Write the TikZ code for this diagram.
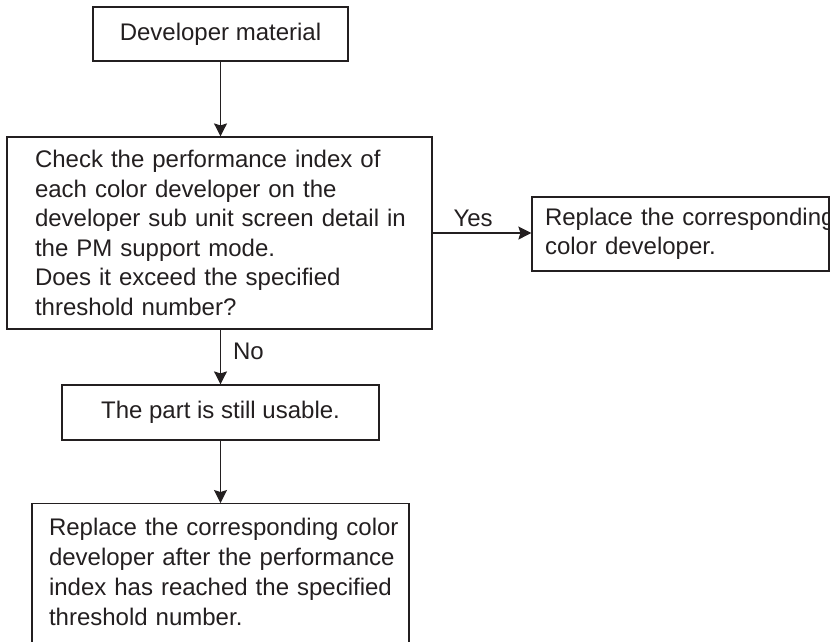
\documentclass[tikz,border=0pt]{standalone}
\usepackage{fontspec}
\setmainfont{Liberation Sans}
\usetikzlibrary{arrows.meta}
\definecolor{ink}{RGB}{35,31,32}
\tikzset{
  box/.style={draw=ink, line width=1.2pt, text=ink, font=\fontsize{24}{29.5}\selectfont},
  flow/.style={draw=ink, line width=1.2pt, -{Stealth[length=13pt,width=13pt,inset=2pt]}},
  lbl/.style={text=ink, font=\fontsize{24}{29.5}\selectfont, inner sep=0pt}
}
\begin{document}
\begin{tikzpicture}[x=1pt,y=1pt]
\useasboundingbox (0,0) rectangle (830,-641);
\node[box, minimum width=255pt, minimum height=54pt, inner sep=0pt] (b1) at (220.5,-34) {Developer material};
\node[box, minimum height=192pt, text width=369pt, align=left, inner xsep=28pt, inner ysep=0pt] (b2) at (219.5,-233)
  {\mbox{Check the performance index of}\\\mbox{each color developer on the}\\\mbox{developer sub unit screen detail in}\\\mbox{the PM support mode.}\\\mbox{Does it exceed the specified}\\\mbox{threshold number?}};
\node[box, minimum height=74pt, text width=271pt, align=left, inner xsep=13pt, inner ysep=0pt, font=\fontsize{24}{28.5}\selectfont] (b3) at (680.5,-234)
  {\mbox{Replace the corresponding}\\\mbox{color developer.}};
\node[box, minimum width=317pt, minimum height=55pt, inner sep=0pt] (b4) at (220.5,-412.5) {The part is still usable.};
\node[box, anchor=north, text width=343pt, align=left, inner xsep=17pt, inner ysep=14.5pt, font=\fontsize{24}{30}\selectfont] (b5) at (220.5,-503)
  {\mbox{Replace the corresponding color}\\\mbox{developer after the performance}\\\mbox{index has reached the specified}\\\mbox{threshold number.}\\\mbox{}\\\mbox{}};
\draw[flow] (b1.south) -- (b1.south |- b2.north);
\draw[flow] (b2.east) -- (b2.east -| b3.west) node[lbl, pos=0.41, anchor=south, yshift=6pt] {Yes};
\draw[flow] (b2.south -| b4.north) -- (b4.north) node[lbl, pos=0.39, anchor=west, xshift=12pt] {No};
\draw[flow] (b4.south) -- (b4.south |- b5.north);
\end{tikzpicture}
\end{document}
